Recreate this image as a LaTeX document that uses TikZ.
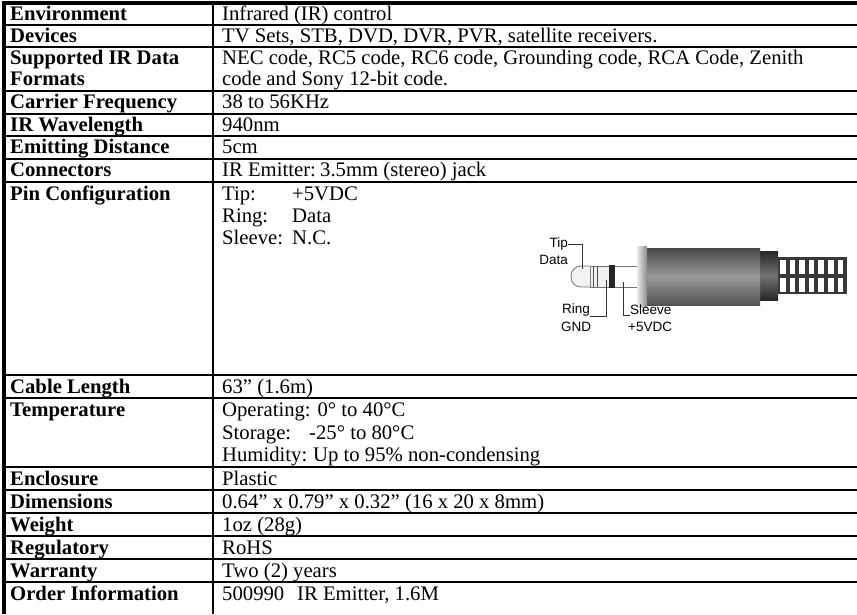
\documentclass[tikz,border=0pt]{standalone}
\usepackage{fontspec}
\setmainfont{Liberation Serif}
\newfontfamily\jackfont{Liberation Sans}
\begin{document}
\begin{tikzpicture}[x=1pt,y=-1pt,
  lbl/.style={anchor=base west, inner sep=0pt, font=\fontsize{20.7}{23}\selectfont\bfseries},
  val/.style={anchor=base west, inner sep=0pt, font=\fontsize{20.7}{23}\selectfont},
  jl/.style={inner sep=0pt, font=\fontsize{13.5}{15}\jackfont},
  rowrule/.style={line width=2pt},
  outer/.style={line width=3.6pt},
  colrule/.style={line width=1.6pt},
  bracket/.style={line width=0.9pt, black!80},
  plugline/.style={draw=black!55, line width=0.8pt}
]
\useasboundingbox (0,0) rectangle (857,614);
% ---------- grid ----------
\foreach \t in {24.5,46.5,91,113.5,136,158.5,181.5,375,398,467,490,513,536,559,582}
  \draw[rowrule] (4,\t) -- (857,\t);
\draw[outer] (2,3) -- (857,3);
\draw[outer] (4,1.5) -- (4,614);
\draw[colrule] (213,3) -- (213,614);
% ---------- left column ----------
\node[lbl] (lEnv) at (10,20.5) {Environment};
\node[lbl] (lDev) at (10,42) {Devices};
\node[lbl] (lSup) at (10,64.5) {Supported IR Data};
\node[lbl] (lSupB) at (10,85.5) {Formats};
\node[lbl] (lCar) at (10,108.5) {Carrier Frequency};
\node[lbl] (lWav) at (10,131) {IR Wavelength};
\node[lbl] (lEmi) at (10,153.5) {Emitting Distance};
\node[lbl] (lCon) at (10,176.5) {Connectors};
\node[lbl] (lPin) at (10,200) {Pin Configuration};
\node[lbl] (lCab) at (10,393) {Cable Length};
\node[lbl] (lTem) at (10,416.5) {Temperature};
\node[lbl] (lEnc) at (10,485) {Enclosure};
\node[lbl] (lDim) at (10,508) {Dimensions};
\node[lbl] (lWei) at (10,531) {Weight};
\node[lbl] (lReg) at (10,554) {Regulatory};
\node[lbl] (lWar) at (10,577) {Warranty};
\node[lbl] (lOrd) at (10,600) {Order Information};
% ---------- right column ----------
\node[val] (vEnv) at (222,20.5) {Infrared (IR) control};
\node[val] (vDev) at (222,42) {TV Sets, STB, DVD, DVR, PVR, satellite receivers.};
\node[val] (vSup) at (222,64.5) {NEC code, RC5 code, RC6 code, Grounding code, RCA Code, Zenith};
\node[val] (vSupB) at (222,85.5) {code and Sony 12-bit code.};
\node[val] (vCar) at (222,108.5) {38 to 56KHz};
\node[val] (vWav) at (222,131) {940nm};
\node[val] (vEmi) at (222,153.5) {5cm};
\node[val] (vCon) at (222,176.5) {IR Emitter:};
\node[val] (vConB) at (320,176.5) {3.5mm (stereo) jack};
\node[val] (vTip) at (222,200) {Tip:};
\node[val] (vTipB) at (292,200) {+5VDC};
\node[val] (vRin) at (222,222) {Ring:};
\node[val] (vRinB) at (292,222) {Data};
\node[val] (vSle) at (222,244) {Sleeve:};
\node[val] (vSleB) at (292,244) {N.C.};
\node[val] (vCab) at (222,393) {63” (1.6m)};
\node[val] (vTem) at (222,416.5) {Operating: 0° to 40°C};
\node[val] (vTemB) at (222,439.5) {Storage:};
\node[val] (vTemBB) at (309,439.5) {-25° to 80°C};
\node[val] (vTemC) at (222,461.5) {Humidity:};
\node[val] (vTemCC) at (313,461.5) {Up to 95\% non-condensing};
\node[val] (vEnc) at (222,485) {Plastic};
\node[val] (vDim) at (222,508) {0.64” x 0.79” x 0.32” (16 x 20 x 8mm)};
\node[val] (vWei) at (222,531) {1oz (28g)};
\node[val] (vReg) at (222,554) {RoHS};
\node[val] (vWar) at (222,577) {Two (2) years};
\node[val] (vOrd) at (222,600) {500990};
\node[val] (vOrdB) at (297,600) {IR Emitter, 1.6M};
% ---------- jack drawing ----------
% ribbed cable
\fill[black!78] (777,257) rectangle (847,294);
\foreach \i in {0,...,6} {
  \fill[white] (780+\i*9.6,260) rectangle (785.5+\i*9.6,274);
  \fill[white] (780+\i*9.6,277.5) rectangle (785.5+\i*9.6,291.5);
}
% strain relief
\shade[top color=black!85, bottom color=black!85, middle color=black!55] (758,251) rectangle (778,300);
% body
\shade[top color=black!72, bottom color=black!68, middle color=black!40] (646,248) rectangle (760,305);
% rim
\shade[left color=black!8, right color=black!45] (637,246) rectangle (647,307);
% shaft (sleeve part)
\fill[white] (615,266) rectangle (637,287);
\draw[plugline] (615,266) -- (637,266);
\draw[plugline] (615,287) -- (637,287);
% ring part
\draw[plugline, fill=black!6] (590,266) rectangle (609,287);
\draw[line width=1pt, black!70] (593,266) -- (593,287);
\draw[line width=1pt, black!70] (597,266) -- (597,287);
\fill[black!85] (609,265) rectangle (615,288);
% tip
\draw[plugline, fill=black!5, rounded corners=10pt] (590,266) -- (571,266) -- (571,287) -- (590,287);
% labels
\node[jl, anchor=east] (tipL) at (568,244) {Tip};
\node[jl, anchor=east] (dataL) at (568,259.5) {Data};
\coordinate (tipC) at (582,269);
\draw[bracket] (tipL.east) -| (tipC);
\node[jl] (ringL) at (576,310) {Ring};
\node[jl] (gndL) at (576,327) {GND};
\coordinate (ringC) at (606,280);
\draw[bracket] (ringL.south east) -| (ringC);
\node[jl, anchor=west] (sleeveL) at (630,310) {Sleeve};
\node[jl, anchor=west] (vdcL) at (628,327) {+5VDC};
\coordinate (sleeveC) at (623,282);
\draw[bracket] (sleeveL.south west) -| (sleeveC);
\end{tikzpicture}
\end{document}
